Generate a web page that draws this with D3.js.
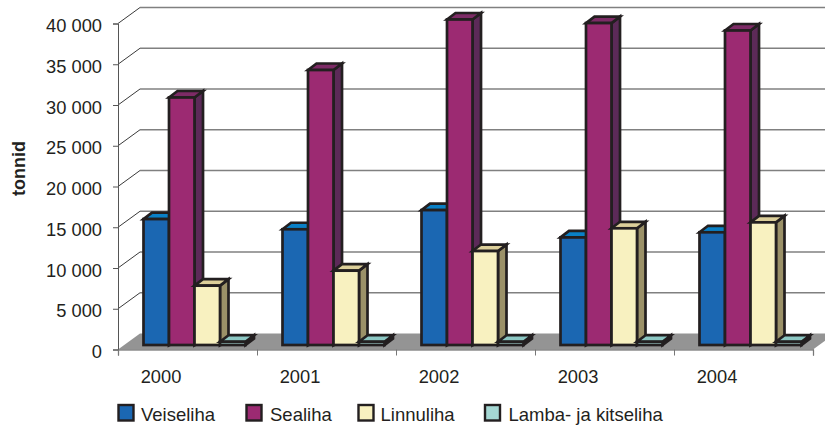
<!DOCTYPE html>
<html><head><meta charset="utf-8">
<script src="https://cdn.jsdelivr.net/npm/d3@7"></script>
<style>html,body{margin:0;padding:0;background:#fff}svg{display:block}text{font-family:"Liberation Sans",Arial,sans-serif;fill:#231f20}</style>
</head><body><svg id="c" width="825" height="425"></svg>
<script>
const years = ["2000","2001","2002","2003","2004"];
const seriesNames = ["Veiseliha","Sealiha","Linnuliha","Lamba- ja kitseliha"];
const veiseliha = [15450,14200,16550,13200,13830];
const sealiha = [30370,33740,39940,39500,38590];
const linnuliha = [7280,9120,11530,14320,15050];
const lamba = [400,400,400,400,400];
const seriesValues = [veiseliha,sealiha,linnuliha,lamba];
const yTicks = [0,5000,10000,15000,20000,25000,30000,35000,40000];
const fronts = ["#1b67b2","#9c2a72","#f8f1c0","#a5d8d4"];
const tops = ["#0a80c6","#7d2b66","#dccf9a","#8cc8c4"];
const sides = ["#14508a","#5c2a58","#9b9168","#5f8f8c"];

const svg = d3.select("#c");
const ink = "#231f20";
const depth = {dx:22, dy:-16};
const barDepth = {dx:8.5, dy:-6.5};
const barOff = {dx:0, dy:-4.5};
const x = d3.scaleBand().domain(years).range([118,813]).padding(0);
const y = d3.scaleLinear().domain([0,40000]).range([349.5,23.5]);
const inner = d3.scaleBand().domain(d3.range(4)).range([25.5,127.5]);

// floor
svg.append("polygon").attr("fill","#949494")
  .attr("points",[[118,349.5],[813,349.5],[835,333.5],[140,333.5]].join(" "));
// back grid
const g = svg.append("g");
g.selectAll("line.grid").data(yTicks.slice(1)).join("line")
  .attr("x1",140).attr("x2",835)
  .attr("y1",d=>y(d)+depth.dy).attr("y2",d=>y(d)+depth.dy)
  .attr("stroke","#808080").attr("stroke-width",1.5);
g.selectAll("line.side").data(yTicks.slice(1)).join("line")
  .attr("x1",118).attr("x2",140)
  .attr("y1",d=>y(d)).attr("y2",d=>y(d)+depth.dy)
  .attr("stroke","#3a3a3a").attr("stroke-width",1);

// axes
const axL = d3.axisLeft(y).tickValues(yTicks).tickSize(5).tickPadding(11)
  .tickFormat(d=>d3.format(",")(d).replace(/,/g," "));
const gL = svg.append("g").attr("transform","translate(118,0)").call(axL);
gL.select(".domain").attr("stroke","#555").attr("stroke-width",1);
gL.selectAll(".tick line").attr("stroke","#555");
gL.selectAll("text").style("font-size","18.3px").attr("dy","0.44em");

const tickPos = d3.scalePoint().domain(d3.range(6)).range([118,813]);
const axB = d3.axisBottom(tickPos).tickSize(6).tickFormat("");
const gB = svg.append("g").attr("transform","translate(0,349.5)").call(axB);
gB.select(".domain").attr("stroke","#555").attr("stroke-width",1.2);
gB.selectAll(".tick line").attr("stroke","#777");

svg.selectAll("text.year").data(years).join("text").attr("class","year")
  .attr("x",d=>x(d)+43).attr("y",383).attr("text-anchor","middle")
  .style("font-size","18.3px").text(d=>d);

// bars
const bars = [];
years.forEach((yr,i)=>seriesValues.forEach((vals,s)=>bars.push({yr,s,v:vals[i]})));
const bg = svg.selectAll("g.bar").data(bars).join("g").attr("class","bar")
  .attr("stroke",ink).attr("stroke-width",2.7).attr("stroke-linejoin","miter");
const X0 = d=>x(d.yr)+inner(d.s)+barOff.dx;
const X1 = d=>X0(d)+inner.bandwidth();
const Y0 = y(0)+barOff.dy;
const YT = d=>Y0-(y(0)-y(d.v));
bg.append("polygon").attr("fill",d=>sides[d.s])
  .attr("points",d=>[[X1(d),YT(d)],[X1(d)+barDepth.dx,YT(d)+barDepth.dy],[X1(d)+barDepth.dx,Y0+barDepth.dy],[X1(d),Y0]].join(" "));
bg.append("polygon").attr("fill",d=>tops[d.s])
  .attr("points",d=>[[X0(d),YT(d)],[X0(d)+barDepth.dx,YT(d)+barDepth.dy],[X1(d)+barDepth.dx,YT(d)+barDepth.dy],[X1(d),YT(d)]].join(" "));
bg.append("rect").attr("fill",d=>fronts[d.s])
  .attr("x",X0).attr("y",YT).attr("width",inner.bandwidth()).attr("height",d=>Y0-YT(d));

// y title
svg.append("text").attr("transform","translate(25,168.5) rotate(-90)")
  .attr("text-anchor","middle").style("font-size","18px").style("font-weight","bold").text("tonnid");

// legend
const legX = d3.scaleOrdinal().domain(seriesNames).range([118.5,246.5,358.5,485]);
const legT = d3.scaleOrdinal().domain(seriesNames).range([22.5,23.5,22,23.5]);
const lg = svg.selectAll("g.leg").data(seriesNames).join("g").attr("class","leg")
  .attr("transform",d=>`translate(${legX(d)},405)`);
lg.append("rect").attr("width",15).attr("height",15.5)
  .attr("fill",(d,i)=>fronts[i]).attr("stroke",ink).attr("stroke-width",2.4);
lg.append("text").attr("x",d=>legT(d)).attr("y",16).style("font-size","18.5px").text(d=>d);
</script></body></html>
